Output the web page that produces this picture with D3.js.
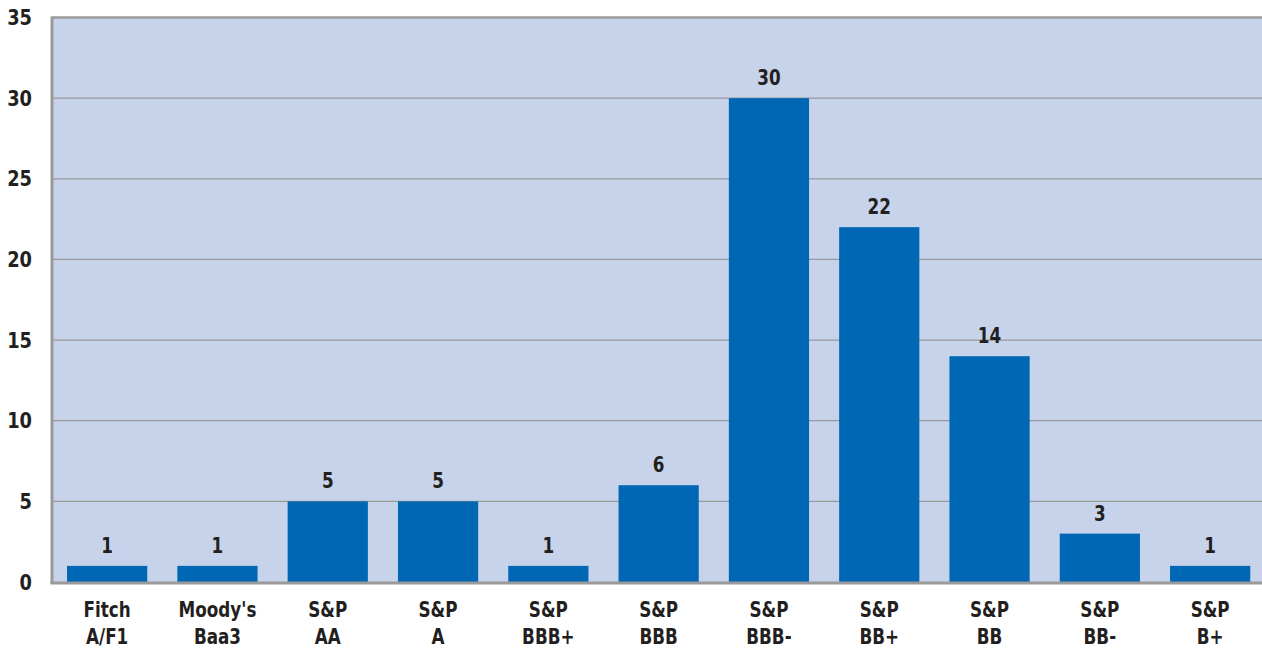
<!DOCTYPE html>
<html>
<head>
<meta charset="utf-8">
<script src="https://cdn.jsdelivr.net/npm/d3@7"></script>
<style>
  body { margin: 0; background: #fff; }
  text { font-family: "DejaVu Sans", sans-serif; font-weight: bold; fill: #231f20; }
</style>
</head>
<body>
<svg id="chart" width="1262" height="648"></svg>
<script>
// ratings (two lines each) and number of issues
const labelsTop = ["Fitch", "Moody's", "S&P", "S&P", "S&P", "S&P", "S&P", "S&P", "S&P", "S&P", "S&P"];
const labelsBottom = ["A/F1", "Baa3", "AA", "A", "BBB+", "BBB", "BBB-", "BB+", "BB", "BB-", "B+"];
const counts = [1, 1, 5, 5, 1, 6, 30, 22, 14, 3, 1];
const yTicks = [0, 5, 10, 15, 20, 25, 30, 35];

const width = 1262;
const height = 648;
const margin = { top: 17.5, right: 0, bottom: 66, left: 52 };

// no condensed font here, so squeeze the text sideways
const squeeze = 0.8;

const svg = d3.select("#chart");

const x = d3.scaleBand()
  .domain(d3.range(counts.length))
  .range([margin.left, margin.left + 11 * 110.3])
  .paddingInner(30 / 110)
  .paddingOuter(15 / 110);

const y = d3.scaleLinear()
  .domain([0, 35])
  .range([height - margin.bottom, margin.top]);

const cx = (i) => x(i) + x.bandwidth() / 2;

// plot background
svg.append("rect")
  .attr("x", margin.left)
  .attr("y", margin.top)
  .attr("width", width - margin.left - margin.right)
  .attr("height", y(0) - margin.top)
  .attr("fill", "#c7d3ea");

// grid lines
svg.append("g")
  .selectAll("line")
  .data(yTicks.filter((d) => d > 0 && d < 35))
  .join("line")
  .attr("x1", margin.left)
  .attr("x2", width)
  .attr("y1", (d) => y(d))
  .attr("y2", (d) => y(d))
  .attr("stroke", "#9a9a9a")
  .attr("stroke-width", 1.2);

// frame: top, left
svg.append("line")
  .attr("x1", margin.left).attr("x2", width)
  .attr("y1", y(35)).attr("y2", y(35))
  .attr("stroke", "#9a9a9a").attr("stroke-width", 2.5);

svg.append("line")
  .attr("x1", margin.left).attr("x2", margin.left)
  .attr("y1", y(35) - 1).attr("y2", y(0) + 2)
  .attr("stroke", "#9a9a9a").attr("stroke-width", 3);

// bars
svg.append("g")
  .selectAll("rect")
  .data(counts)
  .join("rect")
  .attr("x", (d, i) => x(i))
  .attr("width", x.bandwidth())
  .attr("y", (d) => y(d))
  .attr("height", (d) => y(0) - y(d))
  .attr("fill", "#0067b4");

// bottom frame line
svg.append("line")
  .attr("x1", margin.left - 1.5).attr("x2", width)
  .attr("y1", y(0) + 1).attr("y2", y(0) + 1)
  .attr("stroke", "#9a9a9a").attr("stroke-width", 3);

// value labels
svg.append("g")
  .selectAll("text")
  .data(counts)
  .join("text")
  .attr("transform", (d, i) => `translate(${cx(i)},${y(d) - 13}) scale(${squeeze},1)`)
  .attr("text-anchor", "middle")
  .attr("font-size", 21)
  .text((d) => d);

// y axis labels
svg.append("g")
  .selectAll("text")
  .data(yTicks)
  .join("text")
  .attr("transform", (d) => `translate(32,${y(d)}) scale(0.85,1)`)
  .attr("dy", "0.36em")
  .attr("text-anchor", "end")
  .attr("font-size", 21)
  .text((d) => d);

// category labels, two lines
const gx = svg.append("g");
gx.selectAll("text.top")
  .data(labelsTop)
  .join("text")
  .attr("class", "top")
  .attr("transform", (d, i) => `translate(${cx(i)},617) scale(${squeeze},1)`)
  .attr("text-anchor", "middle")
  .attr("font-size", 21)
  .text((d) => d);
gx.selectAll("text.bottom")
  .data(labelsBottom)
  .join("text")
  .attr("class", "bottom")
  .attr("transform", (d, i) => `translate(${cx(i)},644) scale(${squeeze},1)`)
  .attr("text-anchor", "middle")
  .attr("font-size", 21)
  .text((d) => d);
</script>
</body>
</html>
